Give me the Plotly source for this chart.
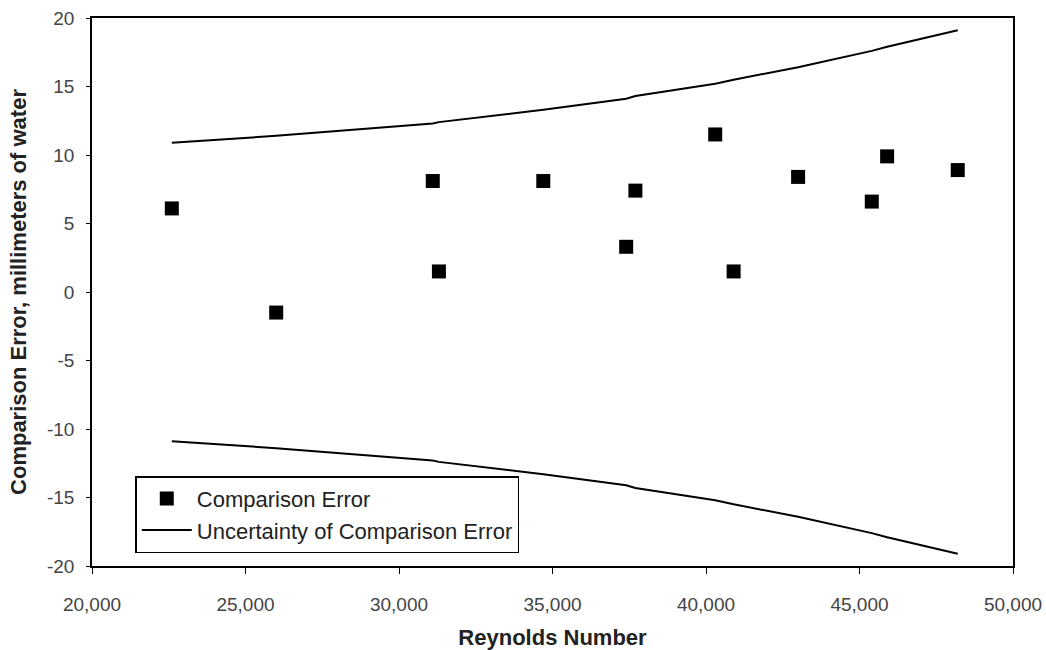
import plotly.graph_objects as go

reynolds = [22600, 26000, 31100, 31300, 34700, 37400, 37700, 40300, 40900, 43000, 45400, 45900, 48200]
comparison_error = [6.1, -1.5, 8.1, 1.5, 8.1, 3.3, 7.4, 11.5, 1.5, 8.4, 6.6, 9.9, 8.9]
uncertainty = [10.9, 11.4, 12.3, 12.4, 13.3, 14.1, 14.3, 15.2, 15.5, 16.4, 17.6, 17.9, 19.1]

x_ticks = [20000, 25000, 30000, 35000, 40000, 45000, 50000]
x_tick_labels = ["20,000", "25,000", "30,000", "35,000", "40,000", "45,000", "50,000"]
y_ticks = [-20, -15, -10, -5, 0, 5, 10, 15, 20]
y_tick_labels = ["-20", "-15", "-10", "-5", "0", "5", "10", "15", "20"]

font_family = "Liberation Sans, Arial, sans-serif"

fig = go.Figure()
fig.add_trace(go.Scatter(
    x=reynolds, y=comparison_error, mode="markers", name="Comparison Error",
    marker=dict(symbol="square", size=14, color="black"),
))
fig.add_trace(go.Scatter(
    x=reynolds, y=uncertainty, mode="lines", name="Uncertainty of Comparison Error",
    line=dict(color="black", width=2),
))
fig.add_trace(go.Scatter(
    x=reynolds, y=[-u for u in uncertainty], mode="lines", showlegend=False,
    line=dict(color="black", width=2),
))

fig.update_layout(
    template="none",
    width=1046, height=650,
    margin=dict(l=92, r=33, t=18, b=84, autoexpand=False),
    paper_bgcolor="white", plot_bgcolor="white",
    font=dict(family=font_family, color="#222"),
    legend=dict(
        x=0.047, y=0.164, xanchor="left", yanchor="top",
        bgcolor="white", bordercolor="black", borderwidth=1.5,
        font=dict(size=22, color="#222"),
        tracegroupgap=0, itemwidth=50,
    ),
    xaxis=dict(
        range=[20000, 50000], tickvals=x_ticks, ticktext=x_tick_labels,
        automargin=False, ticklabeloverflow="allow",
        showgrid=False, zeroline=False, showline=True, linecolor="black", linewidth=1.5,
        mirror=True, ticks="outside", ticklen=6, tickcolor="black",
        ticklabelstandoff=14,
        tickfont=dict(size=19, color="#444"),
        title=dict(text="<b>Reynolds Number</b>", font=dict(size=22, color="#222"), standoff=18),
    ),
    yaxis=dict(
        range=[-20, 20], tickvals=y_ticks, ticktext=y_tick_labels,
        automargin=False, ticklabeloverflow="allow",
        showgrid=False, zeroline=False, showline=True, linecolor="black", linewidth=1.5,
        mirror=True, ticks="outside", ticklen=4, tickcolor="black",
        ticklabelstandoff=8,
        tickfont=dict(size=19, color="#444"),
        title=dict(text="<b>Comparison Error, millimeters of water</b>", font=dict(size=22, color="#222"), standoff=14),
    ),
)

fig.write_html(
    "out.html",
    config={"displayModeBar": False},
    post_script="document.body.style.margin='0';document.body.style.overflow='hidden';",
)
